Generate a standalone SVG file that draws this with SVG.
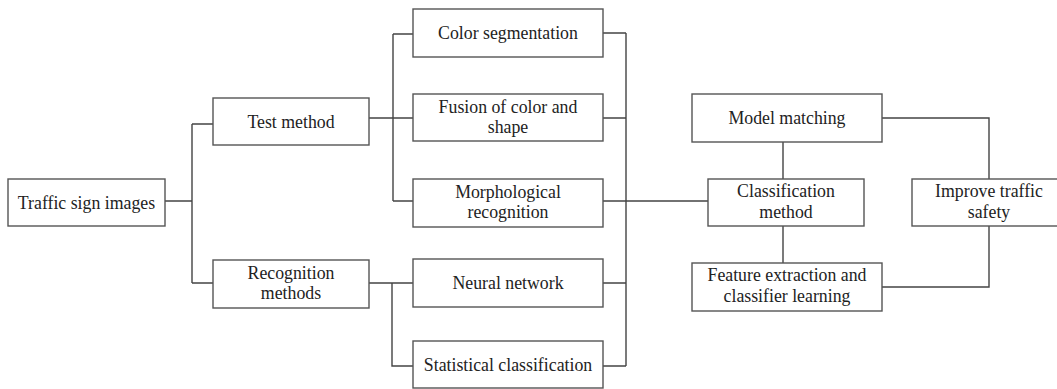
<svg xmlns="http://www.w3.org/2000/svg" width="1057" height="389" viewBox="0 0 1057 389">
<style>
.box{fill:#fff;stroke:#555;stroke-width:1.4}
.c{fill:none;stroke:#444;stroke-width:1.4}
</style>
<rect width="1057" height="389" fill="#fff"/>
<g id="connectors">
<path class="c" d="M165,201 H192 M192,124 V283 M192,124 H213 M192,283 H213"/>
<path class="c" d="M369,118 H413 M393,34 V201 M393,34 H413 M393,201 H413"/>
<path class="c" d="M369,283 H413 M392,283 V366 H413"/>
<path class="c" d="M626,33 V366 M603,33 H626 M603,118 H626 M603,201 H708 M603,283 H626 M603,366 H626"/>
<path class="c" d="M783,142 V179 M783,226 V263"/>
<path class="c" d="M882,118 H989 V179 M989,226 V287 H882"/>
</g>
<g font-family="Liberation Serif, Times New Roman, serif" font-size="17.8" fill="#222" text-anchor="middle">
<g id="traffic"><rect class="box" x="8" y="179" width="157" height="47"/><text x="86.5" y="209">Traffic sign images</text></g>
<g id="test"><rect class="box" x="213" y="98" width="156" height="47"/><text x="291" y="127.5">Test method</text></g>
<g id="recog"><rect class="box" x="213" y="260" width="156" height="48"/><text x="291" y="279">Recognition</text><text x="291" y="299">methods</text></g>
<g id="color"><rect class="box" x="413" y="9" width="190" height="48"/><text x="508" y="39">Color segmentation</text></g>
<g id="fusion"><rect class="box" x="413" y="94" width="190" height="47"/><text x="508" y="112.5">Fusion of color and</text><text x="508" y="132.5">shape</text></g>
<g id="morph"><rect class="box" x="413" y="179" width="190" height="48"/><text x="508" y="197.5">Morphological</text><text x="508" y="217.5">recognition</text></g>
<g id="neural"><rect class="box" x="413" y="259" width="190" height="48"/><text x="508" y="289">Neural network</text></g>
<g id="stat"><rect class="box" x="413" y="341" width="190" height="47"/><text x="508" y="371">Statistical classification</text></g>
<g id="model"><rect class="box" x="692" y="94" width="190" height="48"/><text x="787" y="124">Model matching</text></g>
<g id="classif"><rect class="box" x="708" y="179" width="156" height="47"/><text x="786" y="197">Classification</text><text x="786" y="218">method</text></g>
<g id="improve"><rect class="box" x="912" y="179" width="154" height="47"/><text x="989" y="197">Improve traffic</text><text x="989" y="218">safety</text></g>
<g id="feature"><rect class="box" x="692" y="263" width="190" height="48"/><text x="787" y="281">Feature extraction and</text><text x="787" y="302">classifier learning</text></g>
</g>
</svg>
